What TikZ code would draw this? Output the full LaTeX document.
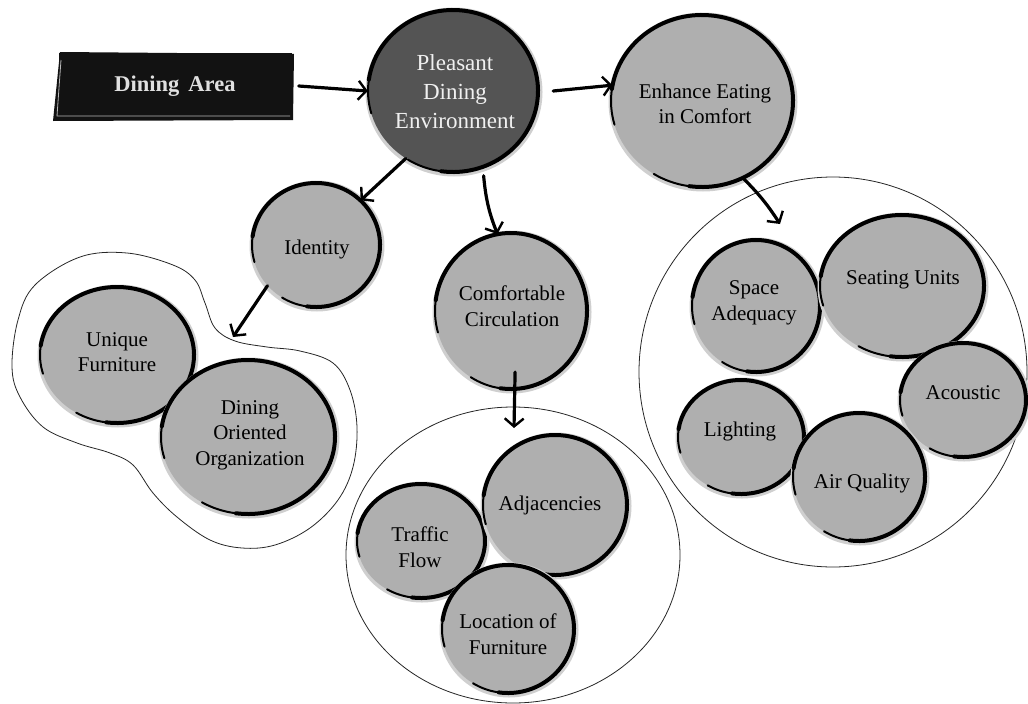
\documentclass[tikz,border=0pt]{standalone}
\usepackage{fontspec}
\setmainfont{Liberation Serif}
\usetikzlibrary{shapes.geometric,arrows.meta}

\definecolor{bubfill}{HTML}{AFAFAF}
\definecolor{darkfill}{HTML}{545454}
\definecolor{halo}{HTML}{CFCFCF}

\tikzset{
  bub/.style={ellipse, fill=bubfill, draw=none, inner sep=0pt},
  bubtext/.style={align=center, font=\fontsize{21}{25.5}\selectfont, text=black, inner sep=0pt},
  darktext/.style={align=center, font=\fontsize{23}{29}\selectfont, text=white!94!black, inner sep=0pt},
  rimthick/.style={line width=4pt, line cap=round, draw=black},
  rimthin/.style={line width=2pt, line cap=round, draw=black},
  group/.style={draw=black!85, line width=0.8pt},
  arr/.style={line width=3.2pt, line cap=round, draw=black,
    -{Straight Barb[length=8pt,width=19pt,line width=2.4pt]}},
  titlebox/.style={rectangle, fill=black!93, inner sep=0pt,
    text=white!88!black, font=\bfseries\fontsize{22.5}{27}\selectfont},
}

% sketched bubble: name, x, y, x radius, y radius
\newcommand\bubble[5]{%
  \fill[halo] (#2+1,#3+1) ellipse[x radius=#4pt+3.5pt, y radius=#5pt+3.5pt];
  \node[bub, minimum width=2*#4pt, minimum height=2*#5pt] (#1) at (#2,#3) {};
  \draw[rimthin] (#1.center) ++(238:#4pt and #5pt)
    arc[start angle=238, end angle=556, x radius=#4pt, y radius=#5pt];
  \draw[rimthick] (#1.center) ++(262:#4pt and #5pt)
    arc[start angle=262, end angle=532, x radius=#4pt, y radius=#5pt];
}

\begin{document}
\begin{tikzpicture}[x=1pt, y=-1pt]
\useasboundingbox (0,0) rectangle (1028,704);

% grouping outlines
\node[group, ellipse, minimum width=334pt, minimum height=296pt, inner sep=0pt] (grpM) at (513,555) {};
\node[group, ellipse, minimum width=388pt, minimum height=390pt, inner sep=0pt] (grpR) at (833,372) {};
\draw[group] plot[smooth cycle, tension=0.6] coordinates {
  (127,253) (173,265) (195,280) (205,303) (215,328) (235,341) (267,347)
  (300,351) (333,363) (350,390) (357,427) (353,467) (338,500) (310,528)
  (275,545) (242,548) (210,540) (177,517) (153,493) (133,465) (110,453)
  (77,443) (43,427) (20,397) (12,367) (18,320) (35,285) (80,257)};

% title block
\fill[black!93] (60,52) -- (294,54) -- (293,120) -- (53,121) -- cycle;
\node[titlebox, minimum width=233pt, minimum height=66pt] (da) at (175,86) {Dining\hspace{0.4em}Area};
\draw[gray!55, line width=0.8pt] (61,60) -- (57,116) -- (290,116);

% bubbles
\begin{scope}[bub/.append style={fill=darkfill}]
  \bubble{pde}{453}{91}{85}{81}
\end{scope}
\bubble{eec}{702}{101}{91}{86}
\bubble{idn}{316}{245}{64}{62}
\bubble{cc}{511}{311}{76}{78}
\bubble{uf}{117}{355}{77}{68}
\bubble{doo}{248}{437}{87}{77}
\bubble{tf}{421}{541}{64}{57}
\bubble{adj}{555}{505}{72}{70}
\bubble{lof}{508}{629}{66}{64}
\bubble{sa}{756}{306}{64}{66}
\bubble{su}{902}{286}{82}{71}
\bubble{ac}{963}{400}{63}{57}
\bubble{lt}{741}{437}{63}{57}
\bubble{aq}{859}{477}{66}{64}

% bubble texts
\node[darktext] (pde-t) at (455,92) {Pleasant\\Dining\\Environment};
\node[bubtext] (eec-t) at (705,104) {Enhance Eating\\in Comfort};
\node[bubtext] (idn-t) at (317,249) {Identity};
\node[bubtext] (cc-t) at (512,306) {Comfortable\\Circulation};
\node[bubtext] (uf-t) at (117,352) {Unique\\Furniture};
\node[bubtext] (doo-t) at (250,435) {Dining\\Oriented\\Organization};
\node[bubtext] (tf-t) at (420,547) {Traffic\\Flow};
\node[bubtext] (adj-t) at (550,505) {Adjacencies};
\node[bubtext] (lof-t) at (508,634) {Location of\\Furniture};
\node[bubtext] (sa-t) at (754,303) {Space\\Adequacy};
\node[bubtext] (su-t) at (903,280) {Seating Units};
\node[bubtext] (ac-t) at (963,393) {Acoustic};
\node[bubtext] (lt-t) at (740,431) {Lighting};
\node[bubtext] (aq-t) at (862,483) {Air Quality};

% arrow ends inside the groups
\coordinate (rin) at (780,224);
\coordinate (min) at (514,428);
\coordinate (lin) at (233,337);

% connectors
\draw[arr] ([xshift=7pt]da.east) -- (pde.west);
\draw[arr] ([xshift=15pt]pde.east) -- (eec.170);
\draw[arr] (eec.-62) to[bend left=6] (rin);
\draw[arr] (pde.-125) -- (idn.45);
\draw[arr] (idn.-140) -- (lin);
\draw[arr] ([yshift=-9pt]pde.-68) to[bend right=8] (cc.100);
\draw[arr] ([yshift=17pt]cc.-87) -- (min);
\end{tikzpicture}
\end{document}
